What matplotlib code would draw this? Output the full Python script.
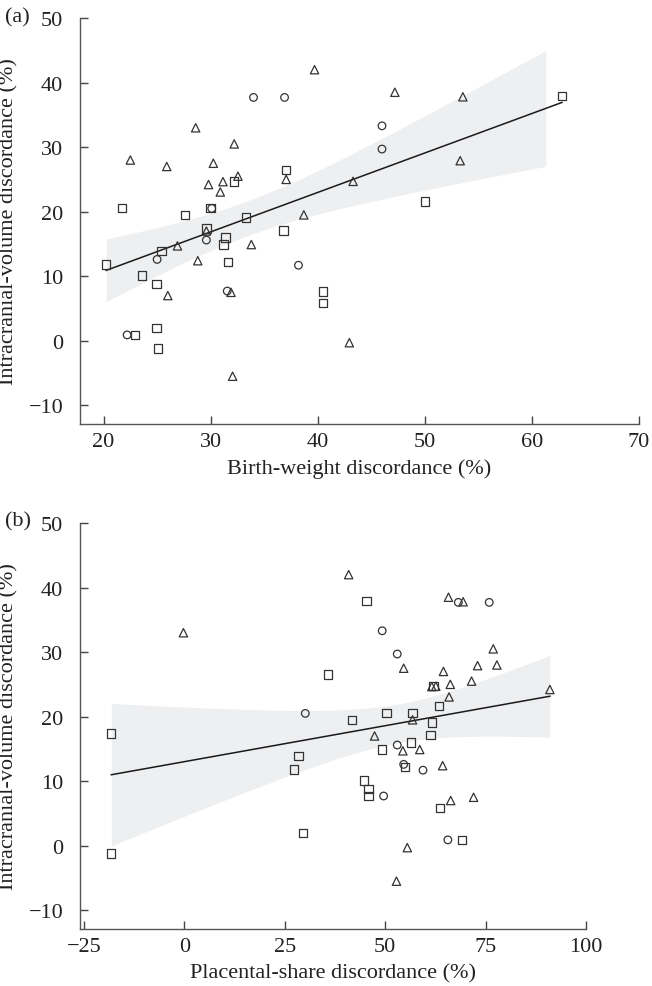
import numpy as np
import matplotlib
matplotlib.use("Agg")
import matplotlib.pyplot as plt
from matplotlib import rcParams

rcParams['font.family'] = ['Liberation Serif', 'DejaVu Serif']
rcParams['font.size'] = 16

# intracranial-volume discordance (%), birth-weight discordance (%), placental-share discordance (%)
circ_icv = [37.7, 37.7, 33.3, 29.7, 20.5, 15.6, 12.6, 11.7, 7.7, 0.9]
circ_bw = [34.0, 36.9, 46.0, 46.0, 30.1, 29.6, 25.0, 38.2, 31.55, 22.2]
circ_ps = [68.2, 75.9, 49.25, 53.0, 30.1, 53.0, 54.6, 59.4, 49.6, 65.6]

tri_icv = [42.0, 38.5, 37.8, 33.0, 30.5, 28.0, 27.9, 27.5, 27.0, 25.5, 25.0, 24.7,
           24.65, 24.2, 23.05, 19.5, 17.0, 14.7, 14.9, 12.4, 7.0, 7.5, -0.3, -5.5]
tri_bw = [39.7, 47.2, 53.55, 28.6, 32.2, 22.5, 53.3, 30.25, 25.9, 32.55, 37.05, 43.3,
          31.15, 29.8, 30.9, 38.7, 29.6, 26.9, 33.8, 28.8, 26.0, 31.9, 42.95, 32.05]
tri_ps = [40.9, 65.75, 69.4, -0.25, 76.9, 77.8, 73.0, 54.6, 64.5, 71.5, 66.2, 62.6,
          61.6, 91.0, 65.9, 56.8, 47.35, 54.4, 58.6, 64.3, 66.3, 72.0, 55.5, 52.8]

sq_icv = [37.9, 26.5, 21.6, 24.7, 20.6, 20.6, 19.5, 19.1, 17.4, 17.1, 16.0,
          14.9, 13.9, 12.2, 11.8, 10.1, 8.8, 7.65, 5.85, 2.0, 0.85, -1.2]
sq_bw = [62.8, 37.05, 50.0, 32.15, 21.75, 30.0, 27.6, 33.3, 29.6, 36.8, 31.4,
         31.2, 25.4, 31.6, 20.25, 23.6, 24.95, 40.5, 40.5, 24.95, 22.95, 25.1]
sq_ps = [45.3, 35.7, 63.4, 62.0, 50.3, 56.8, 41.7, 61.7, -18.2, 61.3, 56.5,
         49.25, 28.4, 54.9, 27.3, 44.7, 45.8, 45.8, 63.7, 29.5, 69.1, -18.2]

edge = '#333333'
band_col = '#eeeff1'
W, H = 652.0, 987.0


def draw_panel(ax, xs, label, xlim, xticks, tag, tag_y, band_stop=None):
    cx, tx, sx = xs
    x_all = np.array(cx + tx + sx)
    y_all = np.array(circ_icv + tri_icv + sq_icv)

    # least squares line + 95% CI of the mean
    n = len(x_all)
    b, a = np.polyfit(x_all, y_all, 1)
    resid = y_all - (a + b * x_all)
    s = np.sqrt(np.sum(resid ** 2) / (n - 2))
    sxx = np.sum((x_all - x_all.mean()) ** 2)
    hi = x_all.max() if band_stop is None else band_stop
    xg = np.linspace(x_all.min(), hi, 200)
    se = s * np.sqrt(1.0 / n + (xg - x_all.mean()) ** 2 / sxx)
    yg = a + b * xg
    ax.fill_between(xg, yg - 2.005 * se, yg + 2.005 * se, color=band_col, lw=0, zorder=1)
    xl = np.array([x_all.min(), x_all.max()])
    ax.plot(xl, a + b * xl, color='#1a1a1a', lw=1.1, zorder=2)

    kw = dict(facecolor='none', edgecolors=edge, linewidths=0.9, zorder=3)
    ax.scatter(cx, circ_icv, marker='o', s=30, **kw)
    ax.scatter(tx, tri_icv, marker='^', s=36, **kw)
    ax.scatter(sx, sq_icv, marker='s', s=36, **kw)

    ax.set_xlim(*xlim)
    ax.set_ylim(-12.9, 50)
    ax.set_xticks(xticks)
    ax.set_yticks([-10, 0, 10, 20, 30, 40, 50])
    for sp in ['top', 'right']:
        ax.spines[sp].set_visible(False)
    for sp in ['left', 'bottom']:
        ax.spines[sp].set_color('#555555')
        ax.spines[sp].set_linewidth(1.0)
    ax.tick_params(axis='both', direction='in', length=6, width=1.0, color='#444444',
                   labelcolor='#222222', labelsize=16)
    ax.tick_params(axis='y', pad=12)
    ax.tick_params(axis='x', pad=6)
    ax.set_xlabel(label, color='#222222', labelpad=5)
    ax.set_ylabel('Intracranial-volume discordance (%)', color='#222222')
    # place the y label by figure pixels
    pos = ax.get_position()
    ax.yaxis.set_label_coords((18 / W - pos.x0) / pos.width, 0.5)
    fig.text(5 / W, 1 - tag_y / H, tag, ha='left', va='center',
             color='#222222', fontsize=16)


fig = plt.figure(figsize=(6.52, 9.87), dpi=100)
ax1 = fig.add_axes([0.1227, 0.5694, 0.8574, 0.4113])
ax2 = fig.add_axes([0.1227, 0.0578, 0.7761, 0.4113])

draw_panel(ax1, (circ_bw, tri_bw, sq_bw), 'Birth-weight discordance (%)',
           (17.8, 70), [20, 30, 40, 50, 60, 70], '(a)', 18, band_stop=61.3)
draw_panel(ax2, (circ_ps, tri_ps, sq_ps), 'Placental-share discordance (%)',
           (-26, 100), [-25, 0, 25, 50, 75, 100], '(b)', 522)

fig.savefig('out.png', dpi=100)
